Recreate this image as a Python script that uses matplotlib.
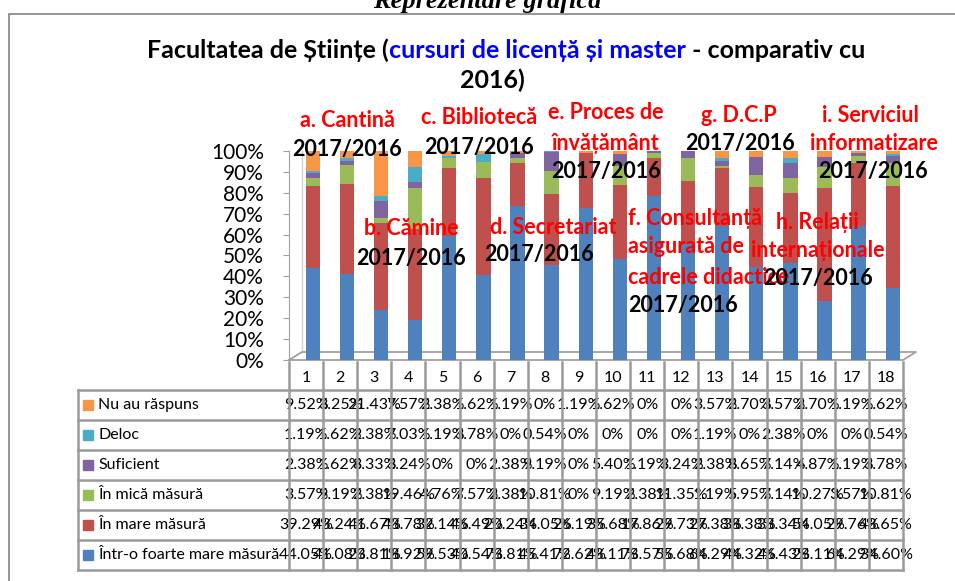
import matplotlib
matplotlib.use("Agg")
import matplotlib.pyplot as plt
from matplotlib.patches import Rectangle

plt.rcParams["font.family"] = ["Lato", "DejaVu Sans"]

# date (procente) - coloanele 1..18
cols = [str(i) for i in range(1, 19)]
categorii = ["Nu au răspuns", "Deloc", "Suficient", "În mică măsură",
             "În mare măsură", "Într-o foarte mare măsură"]
culori = ["#F79646", "#4BACC6", "#8064A2", "#9BBB59", "#C0504D", "#4F81BD"]

nu_au_raspuns = [9.52, 3.25, 21.43, 7.57, 2.38, 1.62, 1.19, 0, 1.19, 1.62, 0, 0, 3.57, 2.70, 3.57, 2.70, 1.19, 1.62]
deloc = [1.19, 1.62, 2.38, 7.03, 1.19, 3.78, 0, 0.54, 0, 0, 0, 0, 1.19, 0, 2.38, 0, 0, 0.54]
suficient = [2.38, 1.62, 8.33, 3.24, 0, 0, 2.38, 9.19, 0, 5.40, 1.19, 3.24, 2.38, 8.65, 7.14, 4.87, 1.19, 3.78]
in_mica = [3.57, 9.19, 2.38, 19.46, 4.76, 7.57, 2.38, 10.81, 0, 9.19, 2.38, 11.35, 1.19, 5.95, 7.14, 10.27, 3.57, 10.81]
in_mare = [39.29, 43.24, 41.67, 43.78, 32.14, 46.49, 20.24, 34.05, 26.19, 35.68, 17.86, 29.73, 27.38, 38.38, 33.34, 54.05, 29.76, 48.65]
foarte_mare = [44.05, 41.08, 23.81, 18.92, 59.53, 40.54, 73.81, 45.41, 72.62, 48.11, 78.57, 55.68, 64.29, 44.32, 46.43, 28.11, 64.29, 34.60]

serii = [nu_au_raspuns, deloc, suficient, in_mica, in_mare, foarte_mare]

# etichete (text, x, y, culoare, aliniere)
etichete = [
    ("a. Cantină", 2.20, 114.8, "red", "center"),
    ("2017/2016", 2.20, 100.5, "black", "center"),
    ("b. Cămine", 4.08, 62.7, "red", "center"),
    ("2017/2016", 4.08, 48.8, "black", "center"),
    ("c. Bibliotecă", 6.08, 115.8, "red", "center"),
    ("2017/2016", 6.08, 101.9, "black", "center"),
    ("d. Secretariat", 8.25, 63.6, "red", "center"),
    ("2017/2016", 7.84, 50.7, "black", "center"),
    ("e. Proces de", 9.78, 118.2, "red", "center"),
    ("învățământ", 9.78, 103.8, "red", "center"),
    ("2017/2016", 9.78, 90.0, "black", "center"),
    ("f. Consultanță", 10.43, 67.9, "red", "left"),
    ("asigurată de", 10.43, 54.1, "red", "left"),
    ("cadrele didactice", 10.43, 39.7, "red", "left"),
    ("2017/2016", 10.43, 26.3, "black", "left"),
    ("g. D.C.P", 13.69, 117.2, "red", "center"),
    ("2017/2016", 13.72, 103.8, "black", "center"),
    ("h. Relații", 16.0, 66.0, "red", "center"),
    ("internaționale", 16.0, 52.6, "red", "center"),
    ("2017/2016", 16.0, 39.2, "black", "center"),
    ("i. Serviciul", 17.56, 117.2, "red", "center"),
    ("informatizare", 17.65, 103.8, "red", "center"),
    ("2017/2016", 17.62, 90.0, "black", "center"),
]

W, H = 955, 581
fig = plt.figure(figsize=(W / 100, H / 100), dpi=100)

# chenarul graficului
fig.add_artist(Rectangle((9 / W, -0.1), 2, 1.1 - 14 / H, transform=fig.transFigure,
                         fill=False, edgecolor="#8c8c8c", lw=1.3))

fig.text(487 / W, 1 - 8 / H, "Reprezentare grafică", ha="center", va="baseline",
         fontsize=19, fontweight="bold", fontstyle="italic", family="Liberation Serif")

# titlu cu doua culori
fig.canvas.draw()
rend = fig.canvas.get_renderer()
parti = [("Facultatea de Științe (", "black"), ("cursuri de licență și master", "#0000FF"),
         (" - comparativ cu", "black")]
tt = [fig.text(0, 0, p, fontsize=18, fontweight="bold") for p, c in parti]
lat = [t.get_window_extent(rend).width for t in tt]
x0 = (506 - sum(lat) / 2)
for t, (p, c), w in zip(tt, parti, lat):
    t.set_position((x0 / W, 1 - 50 / H))
    t.set_color(c)
    t.set_va("center")
    x0 += w
fig.text(492 / W, 1 - 80 / H, "2016)", ha="center", va="center", fontsize=18, fontweight="bold")

# zona graficului
colw = (903 - 289) / 18
ax = fig.add_axes([289 / W, 1 - 360 / H, 614 / W, 209 / H])
x = range(1, 19)
baza = [0] * 18
for s, c in zip(serii[::-1], culori[::-1]):
    ax.bar([i + 0.2 for i in x], s, bottom=baza, width=0.42, color=c, zorder=3)
    baza = [b + v for b, v in zip(baza, s)]

ax.set_xlim(0.5, 18.5)
ax.set_ylim(0, 100)
ax.set_yticks(range(0, 101, 10))
ax.set_yticklabels([f"{v}%" for v in range(0, 101, 10)], fontsize=15)
ax.tick_params(axis="y", length=4, color="#a0a0a0", pad=14)
ax.set_xticks([])
for sp in ["top", "right", "bottom"]:
    ax.spines[sp].set_visible(False)
ax.spines["left"].set_color("#a0a0a0")
ax.patch.set_alpha(0)

# podea 3D
dx, dy = 13 / colw, 8 / 209 * 100
ax.plot([0.5, 18.5, 18.5 + dx, 0.5 + dx, 0.5], [0, 0, dy, dy, 0], color="#a0a0a0",
        lw=1.3, clip_on=False, zorder=2)
ax.plot([0.5 + dx, 0.5 + dx], [dy, 100], color="#d0d0d0", lw=1, clip_on=False, zorder=1)

for t, xx, yy, c, al in etichete:
    ax.text(xx, yy, t, color=c, ha=al, va="center", fontsize=15.5, fontweight="bold",
            zorder=5, clip_on=False)

# tabelul de date
st = 0.5 - (289 - 78) / colw
tab = fig.add_axes([78 / W, 1 - 570 / H, (903 - 78) / W, 210 / H])
tab.set_xlim(st, 18.5)
tab.set_ylim(7, 0)
tab.axis("off")
gri = "#9a9a9a"
for i in range(1, 8):
    tab.plot([st, 18.5], [i, i], color=gri, lw=1.8, zorder=4, clip_on=False)
for j in range(19):
    tab.plot([0.5 + j, 0.5 + j], [0.07, 7], color=gri, lw=1.8, zorder=4, clip_on=False)
tab.plot([st, st], [1, 7], color=gri, lw=1.8, zorder=4, clip_on=False)

for j, c in enumerate(cols):
    tab.text(j + 1, 0.6, c, ha="center", va="center", fontsize=11.5)
for r, (nume, c, s) in enumerate(zip(categorii, culori, serii)):
    yy = r + 1.5
    tab.plot(st + 10 / colw, yy, marker="s", markersize=7.5, color=c, zorder=5)
    tab.text(st + 20 / colw, yy, nume, ha="left", va="center", fontsize=11.5)
    for j, v in enumerate(s):
        txt = "0%" if v == 0 else f"{v:.2f}%"
        tab.text(j + 1, yy, txt, ha="center", va="center", fontsize=11.5, zorder=3)

fig.savefig("out.png", dpi=100)
